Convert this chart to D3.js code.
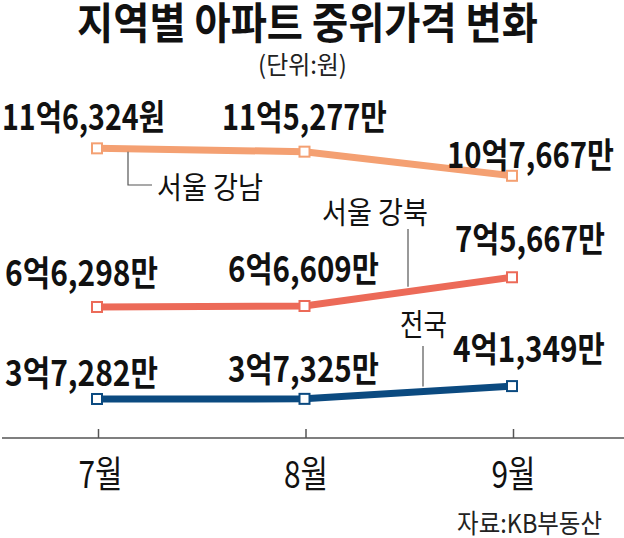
<!DOCTYPE html>
<html><head><meta charset="utf-8">
<script src="https://cdn.jsdelivr.net/npm/d3@7"></script>
<style>
html,body{margin:0;padding:0;background:#fff;}
svg{display:block;}
text{font-family:"Noto Sans CJK KR","Noto Sans",sans-serif;}
</style></head>
<body><svg id="c" width="624" height="538"></svg>
<script>
// ---- data ----
const months = ["7월", "8월", "9월"];
const gangnam = [116324, 115277, 107667];   // 단위: 만원
const gangbuk = [66298, 66609, 75667];
const national = [37282, 37325, 41349];
const gangnamLabels = ["11억6,324원", "11억5,277만", "10억7,667만"];
const gangbukLabels = ["6억6,298만", "6억6,609만", "7억5,667만"];
const nationalLabels = ["3억7,282만", "3억7,325만", "4억1,349만"];
const seriesNames = ["서울 강남", "서울 강북", "전국"];
const seriesColors = ["#f4a072", "#ec6a58", "#0b4a80"];
const titleText = "지역별 아파트 중위가격 변화";
const unitText = "(단위:원)";
const sourceText = "자료:KB부동산";

// ---- layout (offsets from each point, in px) ----
const labelLayout = [
  [{dx:-95, dy:-18, w:163}, {dx:-82.5, dy:-22, w:165}, {dx:-65, dy:-8, w:167}],
  [{dx:-92, dy:-21, w:153}, {dx:-76.5, dy:-24, w:151}, {dx:-57, dy:-25, w:150}],
  [{dx:-92, dy:-13, w:153}, {dx:-76.5, dy:-17, w:151}, {dx:-59, dy:-24, w:152}]
];

const svg = d3.select("#c");
const x = d3.scalePoint().domain(months).range([97, 512]);
const y = d3.scaleLinear().domain([24350, 131570]).range([440, 100]);

const series = [
  {name: seriesNames[0], values: gangnam, labels: gangnamLabels, color: seriesColors[0]},
  {name: seriesNames[1], values: gangbuk, labels: gangbukLabels, color: seriesColors[1]},
  {name: seriesNames[2], values: national, labels: nationalLabels, color: seriesColors[2]}
];

// squeeze a text horizontally to a target width, anchored at (tx, ty)
function fit(node, tx, ty, target) {
  const w = node.getComputedTextLength();
  const k = target / w;
  d3.select(node).attr("x", 0).attr("y", 0)
    .attr("transform", `translate(${tx},${ty}) scale(${k},1)`);
}
function addText(parent, tx, ty, str, size, weight, anchor, target, fill) {
  const t = parent.append("text").attr("font-size", size).attr("font-weight", weight)
    .attr("text-anchor", anchor).attr("fill", fill || "#111").text(str);
  fit(t.node(), tx, ty, target);
  return t;
}

// title
addText(svg, 307.5, 39, titleText, 43, 700, "middle", 461, "#111");
addText(svg, 302.5, 74, unitText, 25, 400, "middle", 89, "#222");

// axis
const axisY = 438;
svg.append("line").attr("x1", 2).attr("x2", 624).attr("y1", axisY).attr("y2", axisY)
  .attr("stroke", "#555").attr("stroke-width", 1.5);
const axisG = svg.append("g").attr("transform", `translate(0,${axisY})`)
  .call(d3.axisBottom(x).tickSize(-9).tickSizeOuter(0).tickPadding(0));
axisG.select(".domain").remove();
axisG.selectAll(".tick line").attr("stroke", "#555").attr("stroke-width", 1.5)
  .attr("transform", "translate(1,0)");
axisG.selectAll(".tick text").attr("dy", null)
  .attr("font-size", 37).attr("fill", "#111").attr("font-family", '"Noto Sans CJK KR",sans-serif')
  .each(function(d, i) { fit(this, i === 0 ? 3 : 1, 50, 44); });

// lines
const line = d3.line().x((d, i) => x(months[i])).y(d => y(d));
series.forEach(s => {
  svg.append("path").datum(s.values).attr("d", line).attr("fill", "none")
    .attr("stroke", s.color).attr("stroke-width", 7).attr("stroke-linejoin", "miter");
});

// interpolate line y at a pixel x
function lineYAt(s, px) {
  const xs = months.map(m => x(m));
  for (let i = 0; i < xs.length - 1; i++) {
    if (px >= xs[i] && px <= xs[i + 1]) {
      const t = (px - xs[i]) / (xs[i + 1] - xs[i]);
      return y(s.values[i]) + t * (y(s.values[i + 1]) - y(s.values[i]));
    }
  }
  return y(s.values[0]);
}

// series name leaders
const leaderColor = "#555";
{
  const s = series[0], lx = 128, ly = lineYAt(s, lx);
  svg.append("path").attr("d", `M${lx},${ly + 3}V185H152`).attr("fill", "none")
    .attr("stroke", leaderColor).attr("stroke-width", 1.2);
  addText(svg, 157, 198, s.name, 30, 400, "start", 106);
}
{
  const s = series[1], lx = 408, ly = lineYAt(s, lx);
  svg.append("line").attr("x1", lx).attr("x2", lx).attr("y1", 229).attr("y2", ly - 5)
    .attr("stroke", leaderColor).attr("stroke-width", 1.2);
  addText(svg, 375, 223, s.name, 30, 400, "middle", 106);
}
{
  const s = series[2], lx = 423, ly = lineYAt(s, lx);
  svg.append("line").attr("x1", lx).attr("x2", lx).attr("y1", 346).attr("y2", ly - 5)
    .attr("stroke", leaderColor).attr("stroke-width", 1.2);
  addText(svg, 423.5, 335, s.name, 30, 400, "middle", 47);
}

// markers
const ms = 10;
series.forEach(s => {
  svg.append("g").selectAll("rect").data(s.values).join("rect")
    .attr("x", (d, i) => x(months[i]) - ms / 2).attr("y", d => y(d) - ms / 2)
    .attr("width", ms).attr("height", ms)
    .attr("fill", "#fff").attr("stroke", s.color).attr("stroke-width", 2);
});

// value labels
series.forEach((s, si) => {
  const g = svg.append("g");
  s.values.forEach((v, i) => {
    const L = labelLayout[si][i];
    addText(g, x(months[i]) + L.dx, y(v) + L.dy, s.labels[i], 35, 700, "start", L.w);
  });
});

// source
addText(svg, 602, 533, sourceText, 26, 400, "end", 145, "#222");
</script></body></html>
